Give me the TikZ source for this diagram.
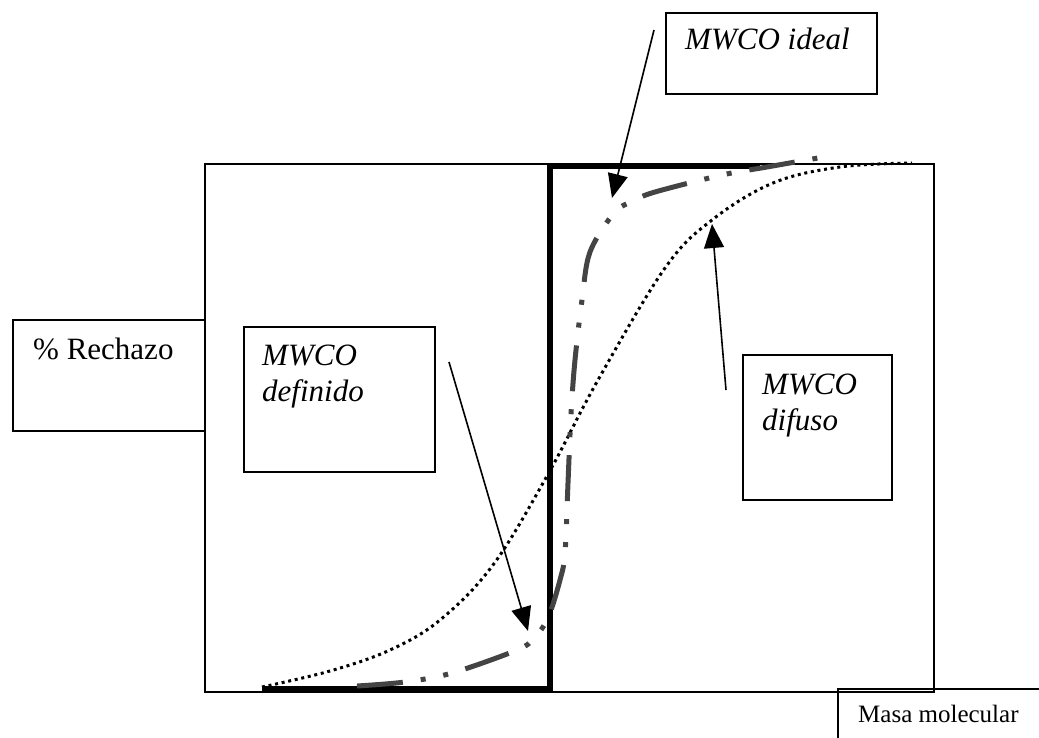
\documentclass[tikz,border=0pt]{standalone}
\usepackage{fontspec}
\setmainfont{Liberation Serif}
\usetikzlibrary{arrows.meta}
\definecolor{dgray}{RGB}{68,68,68}
\tikzset{
  box/.style={draw=black, line width=1.6pt, inner sep=0pt, anchor=north west},
  lbl/.style={inner sep=0pt, anchor=base west, font=\fontsize{31}{36}\selectfont\itshape},
  lblup/.style={inner sep=0pt, anchor=base west, font=\fontsize{31}{36}\selectfont},
  pointer/.style={line width=1.6pt, -{Triangle[length=24pt,width=20pt]}},
  idealline/.style={line width=6pt, line join=miter},
  definedcurve/.style={line width=5pt, color=dgray, dash pattern=on 46pt off 18pt on 5pt off 18pt on 5pt off 18pt},
  diffusecurve/.style={line width=3pt, dash pattern=on 3pt off 3.7pt},
}
\begin{document}
\begin{tikzpicture}[x=1pt,y=-1pt]
\useasboundingbox (0,0) rectangle (1039,738);
% main frame
\node[box, minimum width=729pt, minimum height=528pt] (frame) at (204,163) {};
% label boxes
\node[box, minimum width=192pt, minimum height=111pt] (rech) at (12,319) {};
\node[lblup] (rechT) at (33,359) {\% Rechazo};
\node[box, minimum width=211pt, minimum height=81pt] (ideal) at (665,12) {};
\node[lbl] (idealT) at (685,50) {MWCO ideal};
\node[box, minimum width=191pt, minimum height=145pt] (def) at (243,326) {};
\node[lbl] (defT1) at (262,365) {MWCO};
\node[lbl] (defT2) at (262,401) {definido};
\node[box, minimum width=149pt, minimum height=145pt] (dif) at (742,354) {};
\node[lbl] (difT1) at (762,394) {MWCO};
\node[lbl] (difT2) at (762,430) {difuso};
\node[box, minimum width=220pt, minimum height=70pt] (masa) at (837,688) {};
\node[inner sep=0pt, anchor=base west, font=\fontsize{25}{30}\selectfont] (masaT) at (858,722) {Masa molecular};
% ideal step
\coordinate (s0) at (262,688.5);
\coordinate (s1) at (550,688.5);
\coordinate (s2) at (550,166.5);
\coordinate (s3) at (760,166.5);
\draw[idealline] (s0) -- (s1) -- (s2) -- (s3);
% diffuse curve
\draw[diffusecurve] plot[smooth, tension=0.6] coordinates {(262,687) (330,671) (390,650) (440,620) (493,565) (547,476) (598,380) (665,268) (712,220) (773,183) (840,167) (912,163)};
% defined curve
\draw[definedcurve] plot[smooth, tension=0.55] coordinates {(357,686) (405,682) (452,673) (517,650) (534,638) (548,618) (560,580) (565,553) (568,483) (571,414) (575,360) (582,300) (590,252) (614,213) (633,201) (655,192) (722,175) (767,167) (818,158)};
% pointers
\coordinate (pA0) at (654,30);
\coordinate (pA1) at (612,198);
\coordinate (pB0) at (449,362);
\coordinate (pB1) at (528,631);
\coordinate (pC0) at (726,390);
\coordinate (pC1) at (712,224);
\draw[pointer] (pA0) -- (pA1);
\draw[pointer] (pB0) -- (pB1);
\draw[pointer] (pC0) -- (pC1);
\end{tikzpicture}
\end{document}
